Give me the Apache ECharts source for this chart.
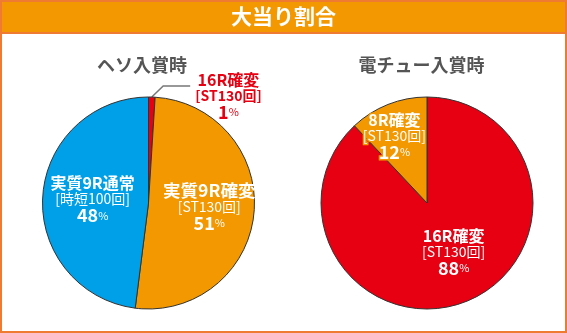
<!DOCTYPE html>
<html><head><meta charset="utf-8">
<script src="https://cdn.jsdelivr.net/npm/echarts@6/dist/echarts.min.js"></script>
<style>html,body{margin:0;padding:0;background:#fff}#c{width:567px;height:333px}</style>
</head><body><div id="c"></div>
<script>
const mainTitle = '大当り割合';
const pieTitles = ['ヘソ入賞時', '電チュー入賞時'];
const hesoNames = ['16R確変', '実質9R確変', '実質9R通常'];
const hesoNotes = ['ST130回', 'ST130回', '時短100回'];
const hesoValues = [1, 51, 48];
const denchuNames = ['16R確変', '8R確変'];
const denchuNotes = ['ST130回', 'ST130回'];
const denchuValues = [88, 12];

const RED = '#e60012', ORANGE = '#f39800', BLUE = '#00a0e9';
const FONT = '"Noto Sans CJK JP", "Noto Sans", sans-serif';

function richFor(color, border, bw, big, boldNote) {
  const base = {color: color, textBorderColor: border, textBorderWidth: bw, fontFamily: FONT, align: 'center'};
  return {
    a: Object.assign({fontSize: big ? 17.5 : 16, fontWeight: 'bold', lineHeight: 16}, base),
    b: Object.assign({fontSize: 14, fontWeight: boldNote ? 'bold' : 'normal', lineHeight: 16}, base),
    c: Object.assign({fontSize: 18, fontWeight: 'bold', lineHeight: 17}, base),
    d: Object.assign({fontSize: 11, fontWeight: 'normal', lineHeight: 17}, base)
  };
}
function fmt(p) {
  return '{a|' + p.name + '}\n{b|[' + p.data.note + ']}\n{c|' + p.value + '}{d|%}';
}
function build(names, notes, values, colors, labels) {
  return names.map((n, i) => ({
    name: n, value: values[i], note: notes[i],
    itemStyle: {color: colors[i]},
    label: labels[i]
  }));
}
const inside = (bg, big) => ({position: 'inside', formatter: fmt, rich: richFor('#fff', bg, 0, big)});

const hesoData = build(hesoNames, hesoNotes, hesoValues, [RED, ORANGE, BLUE], [
  {position: 'outside', formatter: fmt, padding: [20, 0, 0, 0], rich: richFor(RED, '#fff', 3, false, true)},
  inside(ORANGE, true), inside(BLUE)
]);
hesoData[0].labelLine = {show: true, length: 11, length2: 38, lineStyle: {color: '#777', width: 1.5}};
const denchuData = build(denchuNames, denchuNotes, denchuValues, [RED, ORANGE], [
  inside(RED), {position: 'inside', formatter: fmt, rich: richFor('#fff', ORANGE, 3)}
]);

const chart = echarts.init(document.getElementById('c'), null, {renderer: 'canvas'});
chart.setOption({
  animation: false,
  graphic: [
    {type: 'rect', z: -10, shape: {x: 1, y: 1, width: 565, height: 331}, style: {fill: '#fff', stroke: '#ef7b32', lineWidth: 2}},
    {type: 'rect', z: -9, shape: {x: 1, y: 1, width: 565, height: 32}, style: {fill: ORANGE, stroke: '#ef7b32', lineWidth: 2}}
  ],
  title: [
    {text: mainTitle, left: 283.5, top: 6, textAlign: 'center', padding: 0,
     textStyle: {color: '#fff', fontSize: 21, fontWeight: 'bold', fontFamily: FONT}},
    {text: pieTitles[0], left: 142, top: 56, textAlign: 'center', padding: 0,
     textStyle: {color: '#555', fontSize: 18, fontWeight: 'bold', fontFamily: FONT}},
    {text: pieTitles[1], left: 421.5, top: 56, textAlign: 'center', padding: 0,
     textStyle: {color: '#555', fontSize: 18, fontWeight: 'bold', fontFamily: FONT}}
  ],
  series: [
    {type: 'pie', center: [148.5, 203], radius: 106, startAngle: 90, clockwise: true,
     avoidLabelOverlap: false, silent: true,
     itemStyle: {borderColor: '#333', borderWidth: 1},
     labelLine: {show: false},
     labelLayout: function (p) {
       if (p.dataIndex === 0 && p.labelLinePoints) {
         const pts = p.labelLinePoints;
         return {labelLinePoints: [pts[0], [pts[1][0] + 11, pts[1][1]], pts[2]]};
       }
       if (p.dataIndex === 1) return {dx: 5, dy: -1};
       return {};
     },
     data: hesoData},
    {type: 'pie', center: [427, 203], radius: 106, startAngle: 90, clockwise: true,
     avoidLabelOverlap: false, silent: true,
     itemStyle: {borderColor: '#333', borderWidth: 1},
     labelLine: {show: false},
     labelLayout: function (p) {
       if (p.dataIndex === 0) return {dx: 6, dy: -3};
       if (p.dataIndex === 1) return {dx: -12, dy: -15};
       return {};
     },
     data: denchuData}
  ]
});
</script></body></html>
